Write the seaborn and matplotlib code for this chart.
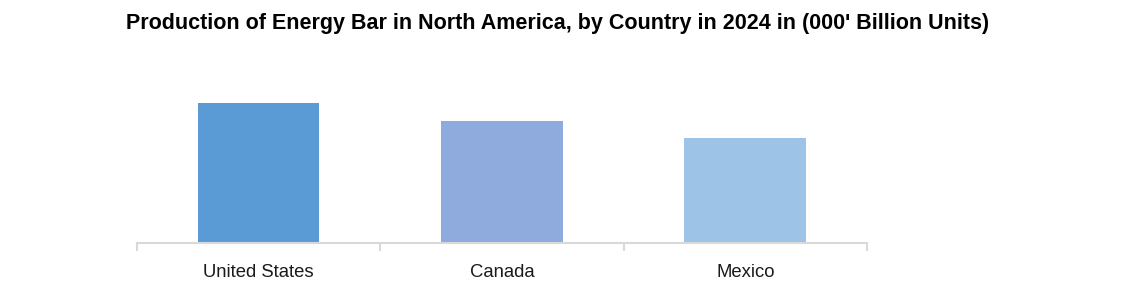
import matplotlib
matplotlib.use("Agg")
import matplotlib.pyplot as plt
import seaborn as sns
import pandas as pd

countries = ["United States", "Canada", "Mexico"]
production = [140, 122, 105]
colors = ["#5B9BD5", "#8FAADC", "#9DC3E6"]

sns.set_theme(style="white")
plt.rcParams['font.family'] = ['Liberation Sans', 'DejaVu Sans']

df = pd.DataFrame({"country": countries, "value": production})

fig = plt.figure(figsize=(11.34, 2.98), dpi=100)
ax = fig.add_axes([136.7/1134, (298-242.7)/298, (867-136.7)/1134, (242.7-43)/298])
sns.barplot(data=df, x="country", y="value", hue="country", palette=colors,
            width=0.5, legend=False, ax=ax, saturation=1, linewidth=0)
ax.set_xlim(-0.5, 2.5)
ax.set_ylim(0, 199.7)
for s in ["top", "right", "left"]:
    ax.spines[s].set_visible(False)
ax.spines["bottom"].set_color("#D9D9D9")
ax.spines["bottom"].set_linewidth(1.5)
ax.set_yticks([])
ax.set_xlabel("")
ax.set_ylabel("")
ax.set_xticks([-0.5, 0.5, 1.5, 2.5], minor=True)
ax.tick_params(axis="x", which="minor", length=6, width=1.5, color="#D9D9D9", bottom=True)
ax.tick_params(axis="x", which="major", length=0, pad=15, labelsize=13.3, labelcolor="#1a1a1a")
fig.text(558/1134, 1 - 23.5/298, "Production of Energy Bar in North America, by Country in 2024 in (000' Billion Units)",
         ha="center", va="center", fontsize=15.5, fontweight="bold", color="black")
fig.savefig("out.png", dpi=100)
